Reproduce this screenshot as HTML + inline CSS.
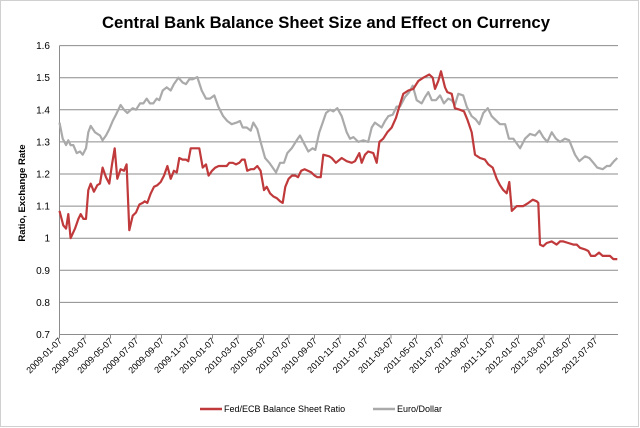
<!DOCTYPE html>
<html><head><meta charset="utf-8"><style>
body{margin:0;background:#fff;}
svg{display:block;font-family:"Liberation Sans",sans-serif;}
</style></head><body>
<svg id="chart" width="640" height="428" viewBox="0 0 640 428">
<rect x="0.5" y="0.5" width="638" height="426" fill="#fff" stroke="#d0d0d0"/>
<text x="326" y="28" text-anchor="middle" font-size="17" font-weight="bold" fill="#000" textLength="448" lengthAdjust="spacingAndGlyphs">Central Bank Balance Sheet Size and Effect on Currency</text>
<text transform="translate(25,193) rotate(-90)" text-anchor="middle" font-size="9.5" font-weight="bold" fill="#000">Ratio, Exchange Rate</text>
<g id="grid"></g><g id="axes"></g><g id="series"></g>
<g>
<line x1="200" y1="409" x2="222" y2="409" stroke="#c0393b" stroke-width="2.5"/>
<text x="224" y="412" font-size="9" fill="#000">Fed/ECB Balance Sheet Ratio</text>
<line x1="373" y1="409" x2="395" y2="409" stroke="#aaaaaa" stroke-width="2.5"/>
<text x="397" y="412" font-size="9" fill="#000">Euro/Dollar</text>
</g>
</svg>
<script>
const yTicks=[0.7,0.8,0.9,1,1.1,1.2,1.3,1.4,1.5,1.6];
const xTickLabels=["2009-01-07","2009-03-07","2009-05-07","2009-07-07","2009-09-07","2009-11-07","2010-01-07","2010-03-07","2010-05-07","2010-07-07","2010-09-07","2010-11-07","2011-01-07","2011-03-07","2011-05-07","2011-07-07","2011-09-07","2011-11-07","2012-01-07","2012-03-07","2012-05-07","2012-07-07"];
const ratioMonths=[0,0.28,0.49,0.66,0.83,1.16,1.41,1.58,1.78,1.98,2.15,2.33,2.57,2.82,3.02,3.22,3.47,3.72,3.92,4.12,4.31,4.56,4.81,5.01,5.21,5.46,5.71,5.96,6.21,6.36,6.55,6.81,7.05,7.3,7.55,7.8,8.05,8.3,8.54,8.75,8.94,9.19,9.44,9.61,9.79,10.09,10.43,10.69,10.93,11.13,11.38,11.63,11.88,12.18,12.48,12.67,12.93,13.17,13.42,13.62,13.82,14.01,14.27,14.51,14.76,15.01,15.26,15.46,15.71,15.96,16.21,16.46,16.66,16.85,17.1,17.35,17.6,17.8,18.04,18.29,18.54,18.79,19.04,19.24,19.49,19.69,20.13,20.31,20.63,21.06,21.43,21.81,22.05,22.37,22.55,22.8,23.04,23.42,23.67,23.87,24.16,24.46,24.79,25.11,25.36,25.66,26.03,26.4,26.78,27.15,27.6,27.85,28.02,28.27,28.47,28.77,28.94,29.27,29.51,29.89,30.19,30.43,30.76,31.01,31.38,31.75,32.0,32.33,32.63,32.87,33.12,33.37,33.57,33.75,34.12,34.37,34.61,34.99,35.31,35.61,35.73,35.86,36.1,36.36,36.73,37.1,37.35,37.6,37.97,38.34,38.6,38.84,39.22,39.46,39.66,39.96,40.26,40.54,41.08,41.33,41.63];
const ratioValues=[1.085,1.04,1.03,1.075,1.0,1.03,1.06,1.075,1.06,1.06,1.15,1.17,1.145,1.165,1.17,1.22,1.19,1.17,1.23,1.28,1.185,1.215,1.21,1.23,1.025,1.07,1.08,1.105,1.11,1.115,1.11,1.14,1.16,1.165,1.175,1.195,1.225,1.185,1.21,1.205,1.25,1.245,1.245,1.24,1.28,1.28,1.28,1.22,1.23,1.195,1.21,1.22,1.225,1.225,1.225,1.235,1.235,1.23,1.235,1.245,1.245,1.21,1.215,1.215,1.225,1.21,1.15,1.16,1.14,1.13,1.125,1.115,1.11,1.16,1.185,1.195,1.195,1.19,1.21,1.215,1.21,1.205,1.195,1.19,1.19,1.26,1.255,1.25,1.235,1.25,1.24,1.235,1.24,1.265,1.235,1.26,1.27,1.265,1.235,1.3,1.31,1.33,1.345,1.375,1.41,1.45,1.46,1.465,1.49,1.5,1.51,1.5,1.465,1.49,1.52,1.47,1.455,1.45,1.405,1.4,1.395,1.37,1.33,1.26,1.25,1.245,1.23,1.22,1.185,1.165,1.15,1.14,1.175,1.085,1.1,1.1,1.1,1.11,1.12,1.115,1.11,0.98,0.975,0.985,0.99,0.98,0.99,0.99,0.985,0.98,0.98,0.97,0.965,0.96,0.945,0.945,0.955,0.945,0.945,0.935,0.935];
const euroMonths=[0,0.24,0.49,0.66,0.83,1.03,1.28,1.53,1.73,1.98,2.15,2.33,2.65,3.02,3.22,3.47,3.72,3.97,4.22,4.56,4.81,5.06,5.46,5.71,6.01,6.26,6.51,6.75,7.0,7.25,7.45,7.7,8.0,8.3,8.54,8.87,9.19,9.44,9.69,9.94,10.28,10.61,10.93,11.23,11.55,11.85,12.22,12.52,12.85,13.22,13.47,13.67,13.97,14.27,14.46,14.76,15.01,15.34,15.66,15.91,16.16,16.46,16.75,17.0,17.33,17.7,17.95,18.25,18.57,18.89,19.09,19.39,19.64,19.89,20.19,20.43,20.73,21.06,21.43,21.68,21.93,22.3,22.67,23.04,23.3,23.54,24.04,24.29,24.54,24.87,25.16,25.41,25.78,26.1,26.36,26.66,27.03,27.28,27.52,27.78,28.1,28.4,28.69,29.01,29.27,29.51,29.76,30.13,30.39,30.76,31.06,31.33,31.63,31.96,32.25,32.5,32.87,33.25,33.54,33.87,34.37,34.74,35.11,35.49,35.81,36.1,36.4,36.73,37.05,37.35,37.72,38.04,38.47,38.79,39.22,39.54,39.84,40.13,40.54,40.84,41.08,41.38,41.63];
const euroValues=[1.36,1.31,1.29,1.305,1.29,1.29,1.265,1.27,1.26,1.28,1.33,1.35,1.33,1.32,1.305,1.32,1.34,1.365,1.385,1.415,1.4,1.39,1.405,1.4,1.42,1.42,1.435,1.42,1.42,1.435,1.43,1.46,1.47,1.46,1.48,1.5,1.485,1.48,1.495,1.495,1.502,1.46,1.435,1.435,1.445,1.41,1.38,1.365,1.355,1.36,1.365,1.345,1.345,1.335,1.36,1.34,1.3,1.25,1.235,1.22,1.205,1.235,1.235,1.265,1.28,1.305,1.32,1.295,1.27,1.28,1.275,1.33,1.36,1.39,1.4,1.395,1.405,1.38,1.33,1.31,1.315,1.3,1.305,1.3,1.345,1.36,1.345,1.365,1.38,1.385,1.41,1.41,1.44,1.455,1.475,1.43,1.42,1.44,1.455,1.43,1.43,1.445,1.42,1.435,1.43,1.415,1.45,1.445,1.41,1.38,1.37,1.355,1.39,1.405,1.38,1.37,1.355,1.355,1.31,1.31,1.28,1.31,1.325,1.32,1.335,1.315,1.3,1.33,1.31,1.3,1.31,1.305,1.26,1.24,1.255,1.25,1.235,1.22,1.215,1.225,1.225,1.24,1.25];

const NS="http://www.w3.org/2000/svg";
const X0=59.5,XR=618,YMIN=0.7,YMAX=1.6,YTOP=45.6,YBOT=334.5;
const xScale=m=>X0+m*13.4;
const tickX=i=>X0+i*25.5;
const yScale=v=>YBOT-(v-YMIN)/(YMAX-YMIN)*(YBOT-YTOP);
function mk(tag,attrs,parent){const e=document.createElementNS(NS,tag);for(const k in attrs)e.setAttribute(k,attrs[k]);parent.appendChild(e);return e;}
const grid=document.getElementById('grid'),axes=document.getElementById('axes'),series=document.getElementById('series');
yTicks.forEach(t=>{
  const y=yScale(t);
  if(t>YMIN){const l=mk('line',{x1:X0,x2:XR,y1:y,y2:y,stroke:'#8c8c8c','stroke-width':1},grid);
  
  }
  const tx=mk('text',{x:50,y:y+3.5,'text-anchor':'end','font-size':10,fill:'#000'},axes);
  tx.textContent=String(t);
  
  
});
const ya=mk('line',{x1:X0,x2:X0,y1:YTOP,y2:YBOT,stroke:'#8c8c8c'},axes);


const xa=mk('line',{x1:X0,x2:XR,y1:YBOT,y2:YBOT,stroke:'#8c8c8c'},axes);


xTickLabels.forEach((lab,i)=>{
  const x=tickX(i);
  const tk=mk('line',{x1:x,x2:x,y1:YBOT,y2:YBOT+4,stroke:'#8c8c8c'},axes);
  
  
  const tx=mk('text',{transform:`translate(${x+3},${YBOT+7}) rotate(-45)`,'text-anchor':'end','font-size':9,fill:'#000'},axes);
  tx.textContent=lab;
  
  
});
function line(ms,vs){return ms.map((m,i)=>(i?'L':'M')+xScale(m).toFixed(1)+','+yScale(vs[i]).toFixed(1)).join('');}
const pe=mk('path',{d:line(euroMonths,euroValues),fill:'none',stroke:'#aaaaaa','stroke-width':2.2,'stroke-linejoin':'round'},series);


const pr=mk('path',{d:line(ratioMonths,ratioValues),fill:'none',stroke:'#c0393b','stroke-width':2.2,'stroke-linejoin':'round'},series);


</script>
</body></html>
